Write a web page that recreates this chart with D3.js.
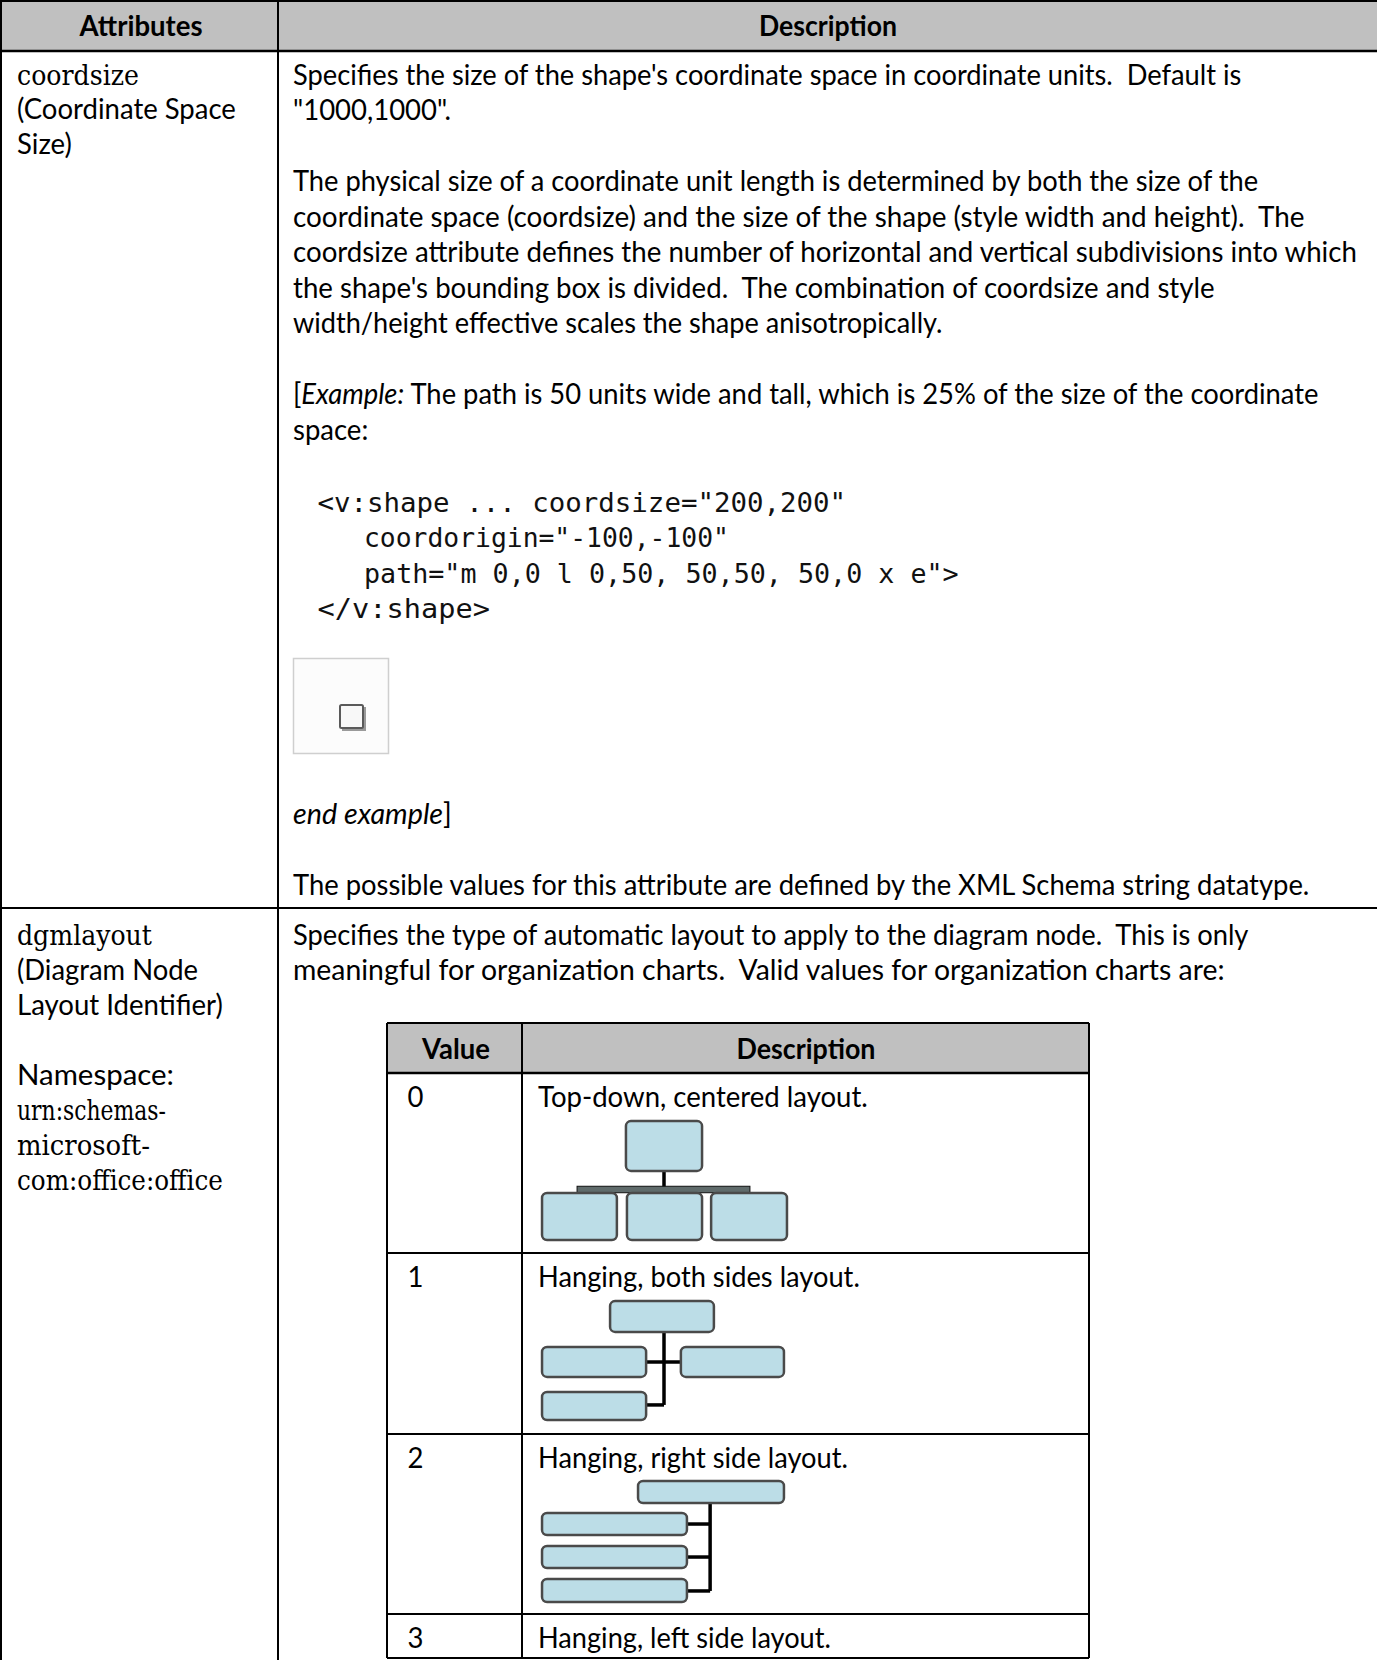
<!DOCTYPE html>
<html><head><meta charset="utf-8">
<script src="https://cdn.jsdelivr.net/npm/d3@7"></script>
<style>html,body{margin:0;padding:0;background:#fff;}svg{display:block}</style>
</head><body>
<svg id="c" width="1377" height="1660"></svg>
<script>
// ---------- DATA ----------
const headers = ["Attributes", "Description"];
const attr1Lines = [[["coordsize","s"]], [["(Coordinate Space","n"]], [["Size)","n"]]];
const attr2Lines = [[["dgmlayout","s"]], [["(Diagram Node","n"]], [["Layout Identifier)","n"]], [],
                    [["Namespace:","n"]], [["urn:schemas-","s"]], [["microsoft-","s"]], [["com:office:office","s"]]];
const desc1Lines = [
  [["Specifies the size of the shape's coordinate space in coordinate units.  Default is","n"]],
  [["\"1000,1000\".","n"]],
  [],
  [["The physical size of a coordinate unit length is determined by both the size of the","n"]],
  [["coordinate space (coordsize) and the size of the shape (style width and height).  The","n"]],
  [["coordsize attribute defines the number of horizontal and vertical subdivisions into which","n"]],
  [["the shape's bounding box is divided.  The combination of coordsize and style","n"]],
  [["width/height effective scales the shape anisotropically.","n"]],
  [],
  [["[","n"],["Example:","i"],[" The path is 50 units wide and tall, which is 25% of the size of the coordinate","n"]],
  [["space:","n"]]
];
const codeLines = ["<v:shape ... coordsize=\"200,200\"", "  coordorigin=\"-100,-100\"",
                   "  path=\"m 0,0 l 0,50, 50,50, 50,0 x e\">", "</v:shape>"];
const endExample = [["end example","i"],["]","n"]];
const possibleValues = [["The possible values for this attribute are defined by the XML Schema string datatype.","n"]];
const desc2Lines = [
  [["Specifies the type of automatic layout to apply to the diagram node.  This is only","n"]],
  [["meaningful for organization charts.  Valid values for organization charts are:","n"]]
];
const innerHeaders = ["Value", "Description"];
const layoutValues = ["0", "1", "2", "3"];
const layoutNames = ["Top-down, centered layout.", "Hanging, both sides layout.",
                     "Hanging, right side layout.", "Hanging, left side layout."];
// org-chart sketches, in percent of each sketch frame: boxes [x0,x1,y0,y1], links [x0,y0,x1,y1]
const sketchBoxes = [
  [[34.9,65.1,6.1,43.9],[1.6,31.3,60.6,96.2],[35.3,65.1,60.6,96.2],[68.7,98.8,60.6,96.2]],
  [[28.6,69.8,6.1,29.5],[1.6,42.9,40.9,63.6],[56.7,97.6,40.9,63.6],[1.6,42.9,75,96.2]],
  [[39.7,97.6,5.3,22],[1.6,59.1,29.5,46.2],[1.6,59.1,54.5,71.2],[1.6,59.1,79.5,97]],
  []
];
const sketchLinks = [
  [[50,43.9,50,57]],
  [[50,29.5,50,84.8],[42.9,52.3,56.7,52.3],[42.9,84.8,50,84.8]],
  [[68.3,22,68.3,88.6],[59.1,37.9,68.3,37.9],[59.1,62.9,68.3,62.9],[59.1,88.6,68.3,88.6]],
  []
];
const sketchBars = [[[15.5,84.1,55.5,60.4]], [], [], []];

// ---------- LAYOUT ----------
const W = 1377, H = 1660;
const FS = 28, PITCH = 35.5;
const BODY = "Lato, 'Open Sans', sans-serif";
const SERIF = "'DejaVu Serif', serif";
const MONO = "'DejaVu Sans Mono', monospace";
const svg = d3.select("#c");
const ks = [], pending = [];

function squeeze(t, x, k) {
  t.attr("transform", `translate(${x},0) scale(${k},1) translate(${-x},0)`);
}
function addLine(g, segs, x, yc, target, anchor, weight) {
  const t = g.append("text").attr("x", x).attr("y", yc + 10)
    .attr("font-size", FS).attr("font-family", BODY).attr("fill", "#000")
    .attr("text-anchor", anchor || "start").attr("font-weight", weight || "normal");
  segs.forEach(([s, st]) => {
    const ts = t.append("tspan").text(s).style("white-space", "pre");
    if (st === "i") ts.attr("font-style", "italic");
    if (st === "s") ts.attr("font-family", SERIF).attr("font-size", 27);
  });
  t.style("white-space", "pre");
  const w = t.node().getComputedTextLength();
  if (target && w > 0) {
    const k = target / w;
    squeeze(t, x, k);
    if (target > 300 && segs.every(s => s[1] !== "s") && weight !== "bold") ks.push(k);
  } else {
    pending.push([t, x]);
  }
  return t;
}

// backgrounds
svg.append("rect").attr("x", 0).attr("y", 0).attr("width", W).attr("height", 51).attr("fill", "#c0c0c0");
const inner = {x0: 387, x1: 1089, div: 522, top: 1023, head: 1073, rows: [1073, 1253, 1434, 1614, 1658]};
svg.append("rect").attr("x", inner.x0).attr("y", inner.top).attr("width", inner.x1 - inner.x0)
  .attr("height", inner.head - inner.top).attr("fill", "#c0c0c0");

// header text
const gh = svg.append("g");
addLine(gh, [[headers[0], "n"]], 141, 26, 123, "middle", "bold");
addLine(gh, [[headers[1], "n"]], 828, 26, 138, "middle", "bold");

// left column
const leftX = 17;
const g1 = svg.append("g");
const a1W = [122, 219, 0];
attr1Lines.forEach((l, i) => { if (l.length) addLine(g1, l, leftX, 75 + i * 34.5, a1W[i]); });
const a2W = [135, 181, 206, 0, 157, 149, 133, 206];
attr2Lines.forEach((l, i) => { if (l.length) addLine(g1, l, leftX, 935 + i * 35, a2W[i]); });

// right column row 1
const rightX = 293;
const d1W = [949, 0, 0, 966, 1012, 1064, 922, 650, 0, 1026, 0];
desc1Lines.forEach((l, i) => { if (l.length) addLine(g1, l, rightX, 75 + i * PITCH, d1W[i]); });
const codeW = [529, 365, 595, 172.5];
codeLines.forEach((c, i) => {
  const lead = c.match(/^ */)[0].length;
  const s = c.trim();
  const x = lead ? 364 : 317.5;
  const t = g1.append("text").attr("x", x).attr("y", 503 + i * 35.3 + 9)
    .attr("font-family", MONO).attr("font-size", 26).attr("fill", "#111").text(s);
  const w = t.node().getComputedTextLength();
  squeeze(t, x, codeW[i] / w);
});
// example picture
const pic = {x: 293, y: 658, s: 95};
g1.append("rect").attr("x", pic.x + 0.5).attr("y", pic.y + 0.5).attr("width", pic.s).attr("height", pic.s)
  .attr("fill", "#fcfcfc").attr("stroke", "#cfcfcf").attr("stroke-width", 1.5);
g1.append("rect").attr("x", 342).attr("y", 707).attr("width", 24).attr("height", 24)
  .attr("fill", "#9a9a9a");
g1.append("rect").attr("x", 340).attr("y", 705).attr("width", 23).attr("height", 23).attr("rx", 1.5)
  .attr("fill", "#f8f8f8").attr("stroke", "#5a5a5a").attr("stroke-width", 2);
addLine(g1, endExample, rightX, 814, 159);
addLine(g1, possibleValues, rightX, 885, 1017);

// row 2 right column
const d2W = [956, 932];
desc2Lines.forEach((l, i) => addLine(g1, l, rightX, 935 + i * PITCH, d2W[i]));

// inner table text
addLine(g1, [[innerHeaders[0], "n"]], 456, 1049, 68, "middle", "bold");
addLine(g1, [[innerHeaders[1], "n"]], 806, 1049, 139, "middle", "bold");
const nameW = [330, 322, 310, 293];
layoutValues.forEach((v, i) => {
  const top = inner.rows[i];
  addLine(g1, [[v, "n"]], 407.5, top + 24);
  addLine(g1, [[layoutNames[i], "n"]], 538, top + 24, nameW[i]);
});
// short lines use the average squeeze of the long ones
const kMean = ks.length ? d3.mean(ks) : 1;
pending.forEach(([t, x]) => squeeze(t, x, kMean));

// sketches
layoutValues.forEach((v, i) => {
  const top = inner.rows[i];
  const sx = d3.scaleLinear().domain([0, 100]).range([538, 790]);
  const sy = d3.scaleLinear().domain([0, 100]).range([top + 40, top + 172]);
  const g = svg.append("g");
  sketchLinks[i].forEach(([x0, y0, x1, y1]) => {
    g.append("line").attr("x1", sx(x0)).attr("y1", sy(y0)).attr("x2", sx(x1)).attr("y2", sy(y1))
      .attr("stroke", "#000").attr("stroke-width", 3.5);
  });
  sketchBars[i].forEach(([x0, x1, y0, y1]) => {
    g.append("rect").attr("x", sx(x0)).attr("y", sy(y0)).attr("width", sx(x1) - sx(x0)).attr("height", sy(y1) - sy(y0))
      .attr("fill", "#5f6b6b").attr("stroke", "#111").attr("stroke-width", 1);
  });
  sketchBoxes[i].forEach(([x0, x1, y0, y1]) => {
    g.append("rect").attr("x", sx(x0)).attr("y", sy(y0)).attr("width", sx(x1) - sx(x0)).attr("height", sy(y1) - sy(y0))
      .attr("rx", 5).attr("fill", "#bcdde7").attr("stroke", "#4a4a4a").attr("stroke-width", 2.5);
  });
});

// grid lines
const gl = svg.append("g").attr("stroke", "#000");
const hl = (y, x0, x1, w) => gl.append("line").attr("x1", x0).attr("x2", x1).attr("y1", y).attr("y2", y).attr("stroke-width", w);
const vl = (x, y0, y1, w) => gl.append("line").attr("x1", x).attr("x2", x).attr("y1", y0).attr("y2", y1).attr("stroke-width", w);
hl(1, 0, W, 2); hl(51, 0, W, 2.5); hl(908, 0, W, 2);
vl(1, 0, H, 2); vl(278, 0, H, 2);
hl(inner.top, inner.x0, inner.x1, 2);
inner.rows.forEach((y, i) => hl(y, inner.x0, inner.x1, i === 0 ? 2.5 : 2));
vl(inner.x0, inner.top, inner.rows[4], 2); vl(inner.x1, inner.top, inner.rows[4], 2);
vl(inner.div, inner.top, inner.rows[4], 2);
</script>
</body></html>
